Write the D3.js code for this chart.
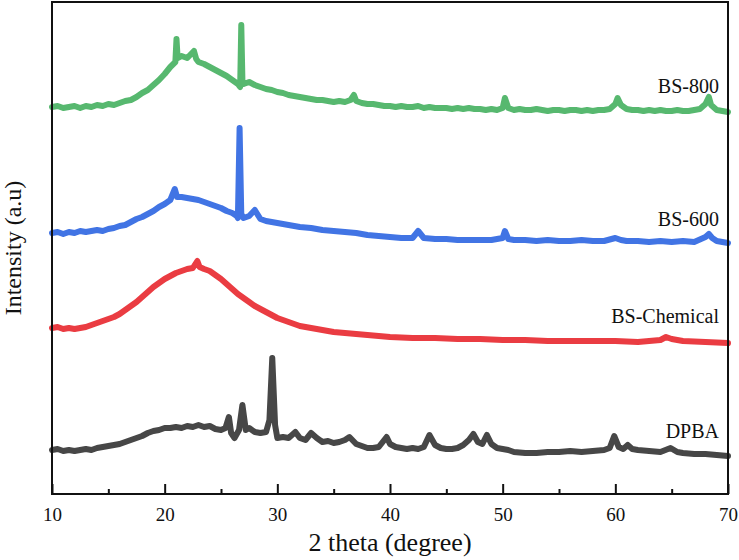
<!DOCTYPE html>
<html>
<head>
<meta charset="utf-8">
<script src="https://cdn.jsdelivr.net/npm/d3@7"></script>
<style>
  html, body { margin: 0; padding: 0; background: #fff; }
  svg { display: block; }
  text { font-family: "Liberation Serif", "Times New Roman", serif; fill: #111; }
</style>
</head>
<body>
<svg id="chart" width="739" height="560"></svg>
<script>
// ---- Data (2theta in degrees, intensity in arbitrary units relative to each pattern's offset) ----
const seriesNames = ["DPBA", "BS-Chemical", "BS-600", "BS-800"];
const seriesColors = ["#474747", "#ea3c42", "#4174e4", "#57b86f"];
const seriesOffsets = [34, 146, 246, 379];

const xTicks = [10, 20, 30, 40, 50, 60, 70];
const xMinorTicks = [15, 25, 35, 45, 55, 65];

const dpba = [[10,10],[10.5,11],[11,9],[11.5,10],[12,9],[12.5,10],[13,11],[13.5,10],[14,12],[14.5,13],[15,14],[15.5,15],[16,16],[16.5,18],[17,20],[17.5,22],[18,24],[18.5,27],[19,29],[19.5,30],[20,32],[20.5,32],[21,33],[21.5,32],[22,34],[22.5,33],[23,35],[23.5,33],[24,34],[24.5,31],[25,30],[25.4,32],[25.7,43],[25.9,27],[26.2,22],[26.6,30],[26.9,55],[27.2,30],[27.5,32],[28,28],[28.5,27],[29,28],[29.3,40],[29.55,102],[29.8,35],[30,22],[30.5,23],[31,22],[31.6,28],[32,22],[32.5,20],[33,27],[33.5,22],[34,18],[34.5,19],[35,17],[35.5,18],[36,20],[36.4,23],[37,16],[37.5,14],[38,12],[38.5,12],[39,13],[39.7,23],[40,16],[40.5,13],[41,12],[41.5,11],[42,12],[42.5,11],[43,13],[43.5,25],[44,15],[44.5,12],[45,11],[45.5,11],[46,12],[46.5,15],[47,20],[47.4,26],[47.8,18],[48.2,16],[48.6,25],[49,16],[49.5,12],[50,11],[50.5,10],[51,8],[52,7],[53,7],[54,8],[55,8],[56,9],[57,8],[58,9],[59,10],[59.5,12],[59.9,24],[60.3,13],[60.7,11],[61.1,15],[61.5,11],[62,10],[63,9],[64,8],[64.9,12],[65.5,8],[66,7],[67,6],[68,6],[69,5],[70,4]];

const bsChemical = [[10,20],[10.5,21],[11,19],[11.5,20],[12,19],[12.5,20],[13,21],[13.5,23],[14,25],[14.5,27],[15,29],[15.5,31],[16,34],[16.5,38],[17,42],[17.5,46],[18,51],[18.5,56],[19,61],[19.5,65],[20,69],[20.5,72],[21,75],[21.5,77],[22,79],[22.5,80],[22.9,87],[23.1,81],[23.5,79],[24,77],[24.5,73],[25,69],[25.5,64],[26,59],[26.5,54],[27,50],[27.5,46],[28,42],[28.5,39],[29,36],[29.5,33],[30,30],[30.5,28],[31,26],[31.5,24],[32,22],[33,20],[34,18],[35,16],[36,15],[37,14],[38,13],[39,12],[40,11],[42,10],[44,10],[46,9],[48,9],[50,8],[52,8],[54,7],[56,7],[58,7],[60,7],[62,6],[64,8],[64.5,11],[65,9],[66,7],[68,6],[70,5]];

const bs600 = [[10,15],[10.5,16],[11,14],[11.5,16],[12,15],[12.5,17],[13,16],[13.5,17],[14,18],[14.5,17],[15,19],[15.5,20],[16,22],[16.5,23],[17,26],[17.5,29],[18,31],[18.5,34],[19,37],[19.5,41],[20,44],[20.5,48],[20.9,59],[21.1,51],[21.5,51],[22,50],[22.5,49],[23,48],[23.5,46],[24,44],[24.5,42],[25,40],[25.5,37],[26,35],[26.4,32],[26.5,30],[26.65,120],[26.8,34],[27,30],[27.5,32],[28,38],[28.5,29],[29,27],[29.5,26],[30,25],[30.5,24],[31,23],[31.5,22],[32,21],[33,20],[34,18],[35,17],[36,16],[37,15],[38,13],[39,12],[40,11],[41,10],[42,10],[42.5,17],[43,10],[44,9],[45,9],[46,8],[47,8],[48,8],[49,8],[50,10],[50.2,17],[50.5,9],[51,8],[52,8],[53,7],[54,8],[55,7],[56,7],[57,8],[58,7],[59,7],[60,10],[60.5,8],[61,7],[62,7],[63,6],[64,7],[65,6],[66,7],[67,6],[68,11],[68.3,14],[68.6,10],[69,7],[70,5]];

const bs800 = [[10,8],[10.5,9],[11,7],[11.5,8],[12,9],[12.5,7],[13,9],[13.5,8],[14,10],[14.5,9],[15,11],[15.5,10],[16,12],[16.5,14],[17,15],[17.5,18],[18,22],[18.5,25],[19,30],[19.5,35],[20,41],[20.5,48],[20.95,53],[21.05,76],[21.15,57],[21.5,59],[22,57],[22.6,64],[22.8,56],[23,53],[23.5,51],[24,48],[24.5,45],[25,42],[25.5,39],[26,35],[26.5,31],[26.7,28],[26.8,90],[26.9,35],[27,31],[27.5,33],[28,30],[28.5,28],[29,26],[29.5,25],[30,23],[30.5,22],[31,20],[31.5,19],[32,18],[32.5,17],[33,16],[33.5,15],[34,15],[34.5,14],[35,13],[35.5,14],[36,13],[36.5,15],[36.8,20],[37,14],[37.5,12],[38,11],[38.5,11],[39,10],[39.5,9],[40,9],[40.5,8],[41,9],[41.5,8],[42,8],[42.5,9],[43,7],[43.5,8],[44,7],[44.5,7],[45,7],[45.5,6],[46,7],[46.5,6],[47,7],[47.5,6],[48,6],[48.5,5],[49,6],[49.5,5],[50,7],[50.2,17],[50.5,7],[51,5],[51.5,6],[52,5],[52.5,5],[53,6],[53.5,5],[54,4],[54.5,5],[55,5],[55.5,4],[56,5],[56.5,5],[57,4],[57.5,5],[58,4],[58.5,5],[59,5],[59.5,6],[60,11],[60.2,17],[60.5,10],[61,6],[61.5,5],[62,5],[62.5,4],[63,5],[63.5,4],[64,5],[64.5,4],[65,4],[65.5,5],[66,4],[66.5,4],[67,5],[67.5,6],[68,11],[68.3,18],[68.5,10],[69,5],[69.5,4],[70,3]];

const seriesData = [dpba, bsChemical, bs600, bs800];
const labelPositions = [ // [angle near right edge, label baseline intensity level]
  [69.2, 56], [69.2, 171], [69.2, 268], [69.2, 401]
];

// ---- Layout ----
const svg = d3.select("#chart");
const margin = {left: 52, right: 11, top: 2, bottom: 66};
const W = 739, H = 560;
const plotW = W - margin.left - margin.right;
const plotH = H - margin.top - margin.bottom;

const x = d3.scaleLinear().domain([10, 70]).range([margin.left, margin.left + plotW]);
const y = d3.scaleLinear().domain([0, 492]).range([margin.top + plotH, margin.top]);

const g = svg.append("g");

// curves
const line = d3.line()
  .x(d => x(d[0]))
  .y(d => y(d[1]));

seriesData.forEach((data, i) => {
  const off = seriesOffsets[i];
  g.append("path")
    .datum(data.map(d => [d[0], d[1] + off]))
    .attr("fill", "none")
    .attr("stroke", seriesColors[i])
    .attr("stroke-width", 6)
    .attr("stroke-linejoin", "round")
    .attr("stroke-linecap", "round")
    .attr("d", line);
});

// labels
seriesNames.forEach((name, i) => {
  svg.append("text")
    .attr("x", x(labelPositions[i][0]))
    .attr("y", y(labelPositions[i][1]))
    .attr("text-anchor", "end")
    .attr("font-size", 20)
    .text(name);
});

// frame
svg.append("rect")
  .attr("x", margin.left)
  .attr("y", margin.top)
  .attr("width", plotW)
  .attr("height", plotH)
  .attr("fill", "none")
  .attr("stroke", "#111")
  .attr("stroke-width", 2);

// bottom axis with inward ticks
const xAxis = d3.axisBottom(x).tickValues(xTicks).tickSizeInner(-10).tickSizeOuter(0).tickPadding(0).tickFormat(d3.format("d"));
const axG = svg.append("g").attr("transform", `translate(0,${margin.top + plotH})`).call(xAxis);
axG.select(".domain").remove();
axG.selectAll(".tick line").attr("stroke", "#111").attr("stroke-width", 2);
axG.selectAll(".tick text")
  .attr("y", 27)
  .attr("dy", 0)
  .attr("font-size", 19)
  .attr("font-family", "Liberation Serif, serif")
  .attr("fill", "#111");

const minorAxis = d3.axisBottom(x).tickValues(xMinorTicks).tickSizeInner(-5).tickSizeOuter(0).tickFormat("");
const mG = svg.append("g").attr("transform", `translate(0,${margin.top + plotH})`).call(minorAxis);
mG.select(".domain").remove();
mG.selectAll(".tick line").attr("stroke", "#111").attr("stroke-width", 2);

// axis titles
svg.append("text")
  .attr("x", margin.left + plotW / 2)
  .attr("y", 551)
  .attr("text-anchor", "middle")
  .attr("font-size", 26)
  .text("2 theta (degree)");

svg.append("text")
  .attr("transform", `translate(21,${margin.top + plotH / 2}) rotate(-90)`)
  .attr("text-anchor", "middle")
  .attr("font-size", 24)
  .text("Intensity (a.u)");
</script>
</body>
</html>
